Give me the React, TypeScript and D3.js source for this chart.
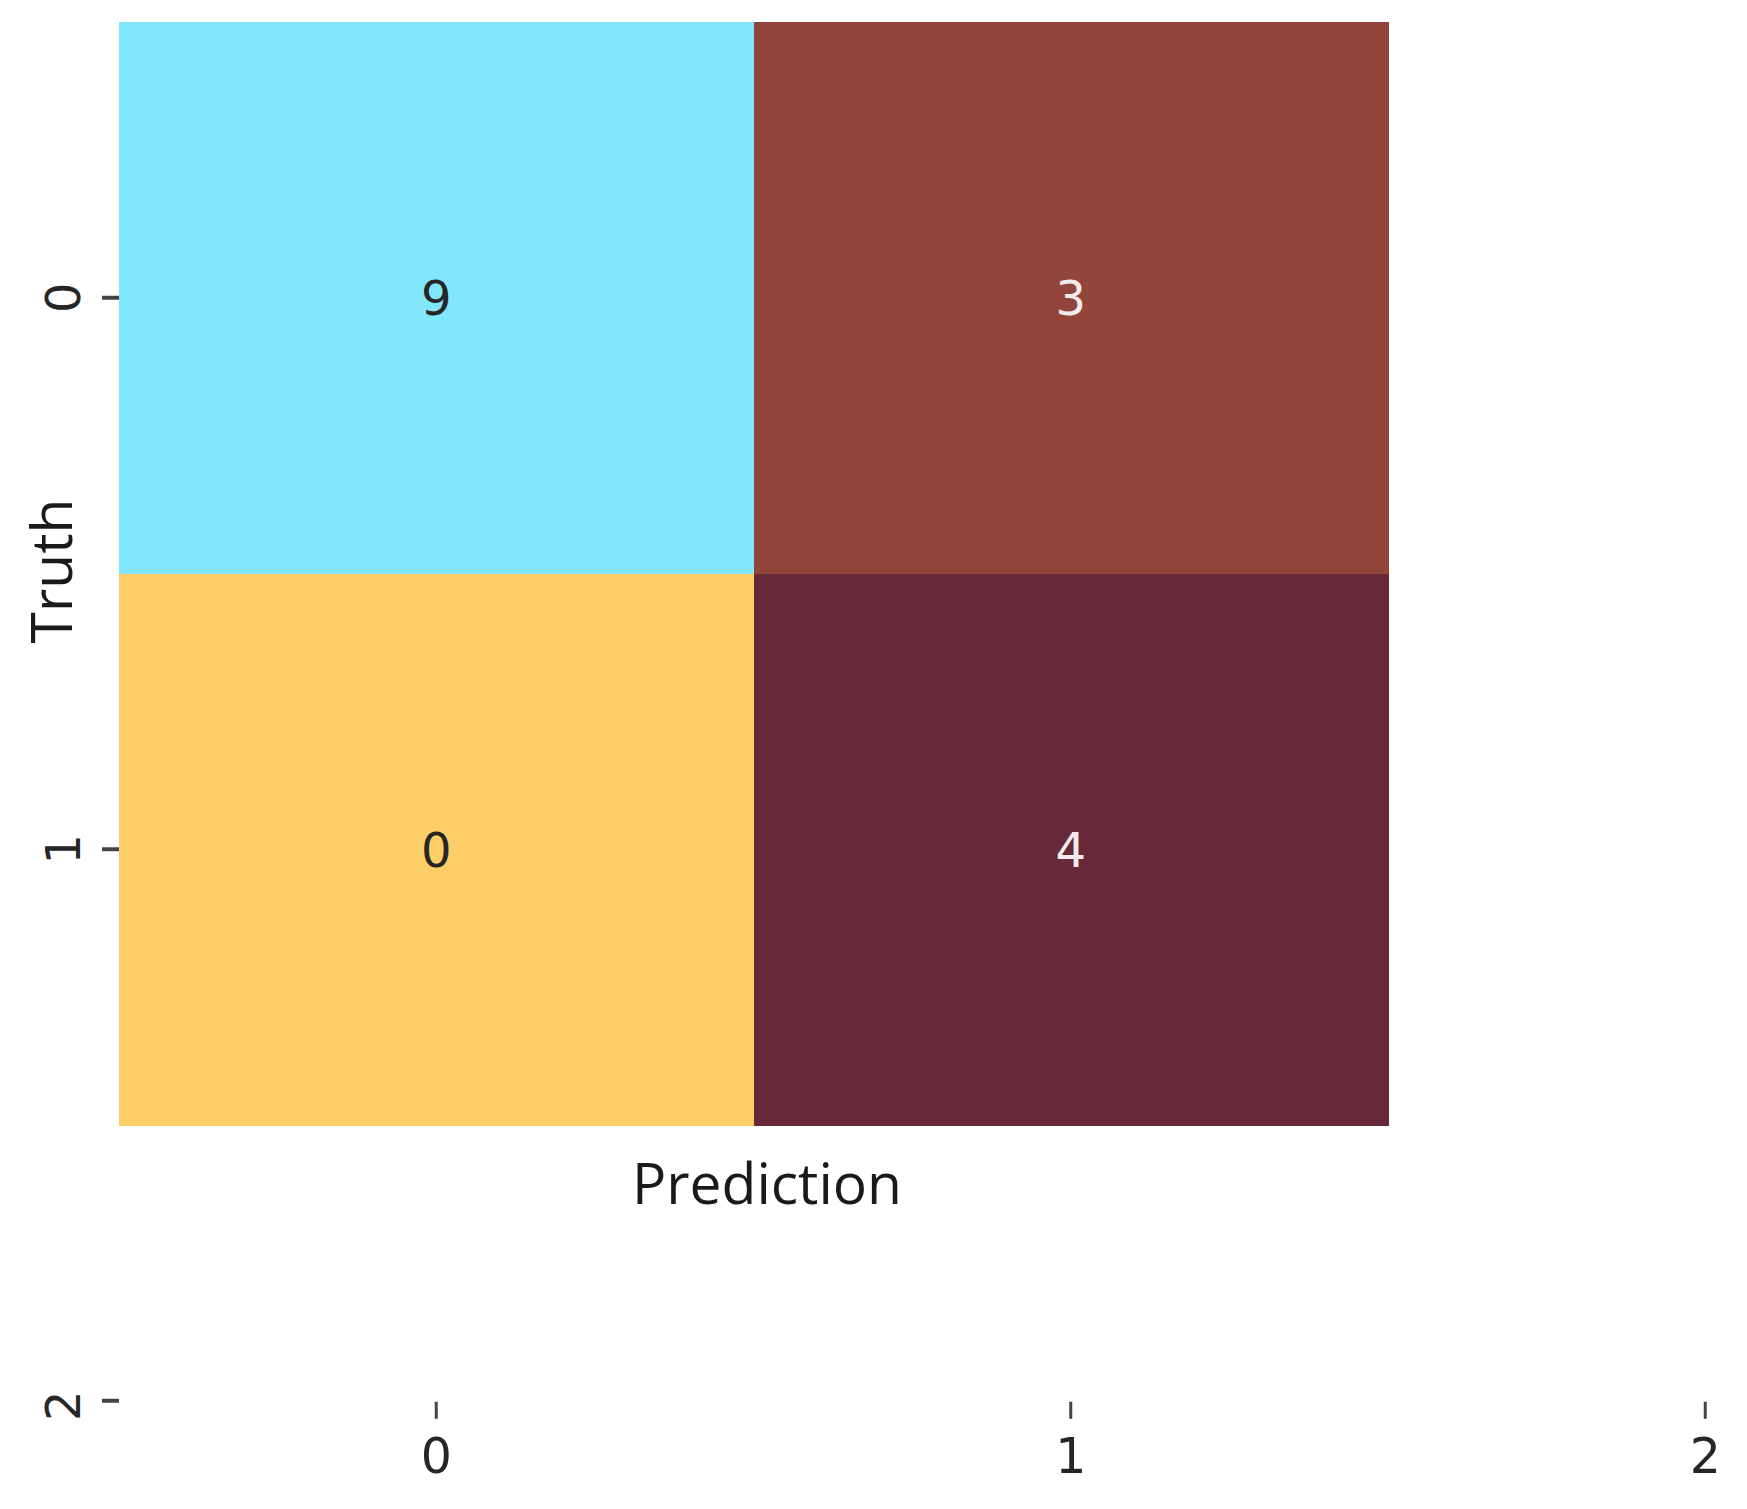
import React from "react";
import { scaleLinear, scaleBand } from "d3";

// confusion matrix, rows = truth, columns = prediction
const truthClasses = ["0", "1"];
const predClasses = ["0", "1"];
const counts = [
  [9, 3],
  [0, 4],
];
// fill of each cell, same layout as counts
const cellColors = [
  ["#82e6fd", "#91453b"],
  ["#fdcd68", "#67293a"],
];
// text colour of each annotation
const textColors = [
  ["#262626", "#f4ecec"],
  ["#262626", "#f4ecec"],
];
const xTicks = [0, 1, 2];
const yTicks = [0, 1, 2];

const W = 1747;
const H = 1505;

function App() {
  // heatmap box
  const left = 119;
  const right = 1388;
  const top = 22;
  const bottom = 1125;

  const xBand = scaleBand<string>().domain(predClasses).range([left, right]).padding(0);
  const yBand = scaleBand<string>().domain(truthClasses).range([top, bottom]).padding(0);

  // numeric scales for the ticks (cell centres at integers)
  const x = scaleLinear().domain([-0.5, 1.5]).range([left, right]);
  const y = scaleLinear().domain([-0.5, 1.5]).range([top, bottom]);

  const axisY = y(2); // where the x ticks hang from
  const tickLen = 17;
  const tickFont = "'DejaVu Sans', sans-serif";
  const labelFont = "'Open Sans', 'Noto Sans', sans-serif";

  return (
    <svg
      width={W}
      height={H}
      style={{ position: "absolute", left: 0, top: 0, background: "#fff" }}
    >
      {/* cells */}
      {truthClasses.map((t, i) =>
        predClasses.map((p, j) => (
          <rect
            key={`c-${i}-${j}`}
            x={xBand(p)}
            y={yBand(t)}
            width={xBand.bandwidth() + 0.5}
            height={yBand.bandwidth() + 0.5}
            fill={cellColors[i][j]}
            shapeRendering="crispEdges"
          />
        ))
      )}

      {/* annotations */}
      {truthClasses.map((t, i) =>
        predClasses.map((p, j) => (
          <text
            key={`a-${i}-${j}`}
            x={(xBand(p) as number) + xBand.bandwidth() / 2}
            y={(yBand(t) as number) + yBand.bandwidth() / 2}
            dy="0.36em"
            textAnchor="middle"
            fontFamily={tickFont}
            fontSize={48}
            fill={textColors[i][j]}
          >
            {counts[i][j]}
          </text>
        ))
      )}

      {/* y ticks */}
      {yTicks.map((v) => (
        <g key={`yt-${v}`}>
          <line
            x1={left - tickLen}
            x2={left}
            y1={y(v)}
            y2={y(v)}
            stroke="#444"
            strokeWidth={4}
          />
          <text
            transform={`translate(80,${y(v) + (v === 2 ? 5 : 0)}) rotate(-90)`}
            textAnchor="middle"
            fontFamily={tickFont}
            fontSize={48}
            fill="#262626"
          >
            {v}
          </text>
        </g>
      ))}

      {/* x ticks */}
      {xTicks.map((v) => (
        <g key={`xt-${v}`}>
          <line
            x1={x(v)}
            x2={x(v)}
            y1={axisY + 1}
            y2={axisY + 1 + tickLen}
            stroke="#444"
            strokeWidth={3}
          />
          <text
            x={x(v)}
            y={1473}
            textAnchor="middle"
            fontFamily={tickFont}
            fontSize={49}
            fill="#262626"
          >
            {v}
          </text>
        </g>
      ))}

      {/* axis titles */}
      <text
        x={767}
        y={1204}
        textAnchor="middle"
        fontFamily={labelFont}
        fontSize={57}
        fill="#1a1a1a"
      >
        Prediction
      </text>
      <text
        transform={`translate(72,571) rotate(-90)`}
        textAnchor="middle"
        fontFamily={labelFont}
        fontSize={57}
        fill="#1a1a1a"
      >
        Truth
      </text>
    </svg>
  );
}

export default App;
